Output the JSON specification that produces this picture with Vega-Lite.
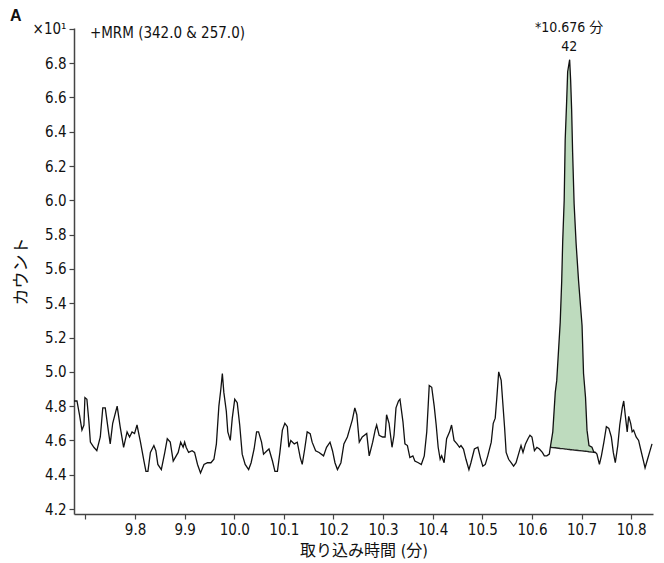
{
  "$schema": "https://vega.github.io/schema/vega-lite/v6.json",
  "autosize": {"type": "none"},
  "width": 579,
  "height": 486,
  "padding": {"left": 74, "top": 28, "right": 11, "bottom": 49},
  "background": "white",
  "config": {
    "view": {"stroke": null},
    "font": "DejaVu Sans Condensed, Noto Sans CJK JP",
    "axis": {"grid": false, "domainColor": "#444", "domainWidth": 1.5, "tickColor": "#444", "tickWidth": 1.2, "tickSize": 5, "labelColor": "#111", "titleColor": "#111", "labelFont": "DejaVu Sans Condensed", "labelFontSize": 15, "titleFont": "DejaVu Sans Condensed, Noto Sans CJK JP", "titleFontWeight": "normal", "titleFontSize": 16}
  },
  "title": {"text": "A", "anchor": "start", "frame": "group", "dx": -64, "offset": -3, "fontSize": 16, "fontWeight": "bold", "font": "Liberation Sans, Arial", "color": "#111"},
  "datasets": {
    "trace": [
      {"t": 9.677, "v": 4.83}, {"t": 9.683, "v": 4.83}, {"t": 9.688, "v": 4.75}, {"t": 9.693, "v": 4.66}, {"t": 9.697, "v": 4.69},
      {"t": 9.699, "v": 4.85}, {"t": 9.703, "v": 4.84}, {"t": 9.707, "v": 4.71}, {"t": 9.710, "v": 4.59}, {"t": 9.717, "v": 4.56},
      {"t": 9.723, "v": 4.54}, {"t": 9.730, "v": 4.62}, {"t": 9.735, "v": 4.79}, {"t": 9.740, "v": 4.79}, {"t": 9.747, "v": 4.64},
      {"t": 9.750, "v": 4.58}, {"t": 9.755, "v": 4.70}, {"t": 9.764, "v": 4.80}, {"t": 9.770, "v": 4.68}, {"t": 9.777, "v": 4.56},
      {"t": 9.784, "v": 4.65}, {"t": 9.789, "v": 4.62}, {"t": 9.794, "v": 4.65}, {"t": 9.799, "v": 4.64}, {"t": 9.804, "v": 4.69},
      {"t": 9.811, "v": 4.59}, {"t": 9.818, "v": 4.48}, {"t": 9.822, "v": 4.42}, {"t": 9.826, "v": 4.42}, {"t": 9.831, "v": 4.53},
      {"t": 9.838, "v": 4.57}, {"t": 9.842, "v": 4.54}, {"t": 9.846, "v": 4.46}, {"t": 9.853, "v": 4.43}, {"t": 9.860, "v": 4.53},
      {"t": 9.865, "v": 4.61}, {"t": 9.871, "v": 4.59}, {"t": 9.877, "v": 4.48}, {"t": 9.881, "v": 4.50}, {"t": 9.887, "v": 4.53},
      {"t": 9.892, "v": 4.59}, {"t": 9.897, "v": 4.56}, {"t": 9.900, "v": 4.59}, {"t": 9.903, "v": 4.56}, {"t": 9.908, "v": 4.53},
      {"t": 9.915, "v": 4.54}, {"t": 9.920, "v": 4.53}, {"t": 9.926, "v": 4.46}, {"t": 9.932, "v": 4.41}, {"t": 9.939, "v": 4.46},
      {"t": 9.946, "v": 4.47}, {"t": 9.953, "v": 4.47}, {"t": 9.959, "v": 4.49}, {"t": 9.964, "v": 4.58}, {"t": 9.969, "v": 4.80},
      {"t": 9.973, "v": 4.90}, {"t": 9.976, "v": 4.99}, {"t": 9.979, "v": 4.88}, {"t": 9.984, "v": 4.77}, {"t": 9.987, "v": 4.65},
      {"t": 9.992, "v": 4.60}, {"t": 9.996, "v": 4.73}, {"t": 10.001, "v": 4.84}, {"t": 10.006, "v": 4.82}, {"t": 10.011, "v": 4.69},
      {"t": 10.016, "v": 4.52}, {"t": 10.022, "v": 4.46}, {"t": 10.029, "v": 4.43}, {"t": 10.034, "v": 4.47}, {"t": 10.040, "v": 4.55},
      {"t": 10.045, "v": 4.65}, {"t": 10.049, "v": 4.65}, {"t": 10.055, "v": 4.59}, {"t": 10.059, "v": 4.52}, {"t": 10.066, "v": 4.54},
      {"t": 10.070, "v": 4.55}, {"t": 10.077, "v": 4.48}, {"t": 10.082, "v": 4.42}, {"t": 10.087, "v": 4.42}, {"t": 10.092, "v": 4.53},
      {"t": 10.097, "v": 4.66}, {"t": 10.102, "v": 4.70}, {"t": 10.107, "v": 4.68}, {"t": 10.110, "v": 4.56}, {"t": 10.114, "v": 4.60},
      {"t": 10.121, "v": 4.58}, {"t": 10.127, "v": 4.59}, {"t": 10.133, "v": 4.50}, {"t": 10.137, "v": 4.46}, {"t": 10.142, "v": 4.55},
      {"t": 10.147, "v": 4.65}, {"t": 10.153, "v": 4.64}, {"t": 10.157, "v": 4.59}, {"t": 10.164, "v": 4.54}, {"t": 10.171, "v": 4.53},
      {"t": 10.180, "v": 4.51}, {"t": 10.186, "v": 4.56}, {"t": 10.193, "v": 4.59}, {"t": 10.198, "v": 4.54}, {"t": 10.203, "v": 4.47},
      {"t": 10.208, "v": 4.43}, {"t": 10.215, "v": 4.47}, {"t": 10.221, "v": 4.58}, {"t": 10.228, "v": 4.62}, {"t": 10.233, "v": 4.67},
      {"t": 10.238, "v": 4.72}, {"t": 10.243, "v": 4.79}, {"t": 10.247, "v": 4.75}, {"t": 10.252, "v": 4.59}, {"t": 10.258, "v": 4.62},
      {"t": 10.267, "v": 4.64}, {"t": 10.272, "v": 4.51}, {"t": 10.279, "v": 4.59}, {"t": 10.284, "v": 4.66}, {"t": 10.287, "v": 4.69},
      {"t": 10.292, "v": 4.63}, {"t": 10.299, "v": 4.62}, {"t": 10.304, "v": 4.62}, {"t": 10.307, "v": 4.75}, {"t": 10.312, "v": 4.70},
      {"t": 10.318, "v": 4.56}, {"t": 10.322, "v": 4.63}, {"t": 10.326, "v": 4.79}, {"t": 10.331, "v": 4.83}, {"t": 10.334, "v": 4.84},
      {"t": 10.340, "v": 4.71}, {"t": 10.344, "v": 4.58}, {"t": 10.349, "v": 4.57}, {"t": 10.354, "v": 4.50}, {"t": 10.360, "v": 4.51},
      {"t": 10.364, "v": 4.48}, {"t": 10.371, "v": 4.47}, {"t": 10.377, "v": 4.46}, {"t": 10.383, "v": 4.51}, {"t": 10.388, "v": 4.65},
      {"t": 10.391, "v": 4.81}, {"t": 10.393, "v": 4.92}, {"t": 10.398, "v": 4.91}, {"t": 10.403, "v": 4.80}, {"t": 10.407, "v": 4.69},
      {"t": 10.411, "v": 4.56}, {"t": 10.415, "v": 4.49}, {"t": 10.418, "v": 4.51}, {"t": 10.423, "v": 4.47}, {"t": 10.428, "v": 4.61},
      {"t": 10.434, "v": 4.65}, {"t": 10.438, "v": 4.69}, {"t": 10.443, "v": 4.60}, {"t": 10.449, "v": 4.58}, {"t": 10.454, "v": 4.56},
      {"t": 10.457, "v": 4.57}, {"t": 10.462, "v": 4.55}, {"t": 10.467, "v": 4.49}, {"t": 10.473, "v": 4.43}, {"t": 10.477, "v": 4.47},
      {"t": 10.484, "v": 4.55}, {"t": 10.491, "v": 4.56}, {"t": 10.496, "v": 4.50}, {"t": 10.501, "v": 4.45}, {"t": 10.506, "v": 4.46},
      {"t": 10.511, "v": 4.51}, {"t": 10.518, "v": 4.59}, {"t": 10.522, "v": 4.70}, {"t": 10.526, "v": 4.73}, {"t": 10.529, "v": 4.84},
      {"t": 10.533, "v": 5.00}, {"t": 10.538, "v": 4.95}, {"t": 10.541, "v": 4.83}, {"t": 10.545, "v": 4.67}, {"t": 10.548, "v": 4.53},
      {"t": 10.553, "v": 4.49}, {"t": 10.558, "v": 4.47}, {"t": 10.563, "v": 4.45}, {"t": 10.568, "v": 4.47}, {"t": 10.574, "v": 4.53},
      {"t": 10.578, "v": 4.57}, {"t": 10.582, "v": 4.53}, {"t": 10.587, "v": 4.58}, {"t": 10.592, "v": 4.61}, {"t": 10.596, "v": 4.63},
      {"t": 10.600, "v": 4.62}, {"t": 10.605, "v": 4.54}, {"t": 10.610, "v": 4.56}, {"t": 10.615, "v": 4.55}, {"t": 10.621, "v": 4.53},
      {"t": 10.625, "v": 4.51}, {"t": 10.630, "v": 4.51}, {"t": 10.635, "v": 4.52}, {"t": 10.637, "v": 4.56}, {"t": 10.642, "v": 4.65},
      {"t": 10.647, "v": 4.88}, {"t": 10.650, "v": 4.95}, {"t": 10.657, "v": 5.29}, {"t": 10.660, "v": 5.53}, {"t": 10.662, "v": 5.76},
      {"t": 10.665, "v": 6.00}, {"t": 10.667, "v": 6.35}, {"t": 10.670, "v": 6.58}, {"t": 10.672, "v": 6.75}, {"t": 10.676, "v": 6.82},
      {"t": 10.678, "v": 6.70}, {"t": 10.680, "v": 6.53}, {"t": 10.682, "v": 6.28}, {"t": 10.685, "v": 5.98}, {"t": 10.689, "v": 5.75},
      {"t": 10.694, "v": 5.53}, {"t": 10.701, "v": 5.27}, {"t": 10.704, "v": 4.99}, {"t": 10.708, "v": 4.85}, {"t": 10.711, "v": 4.66},
      {"t": 10.715, "v": 4.57}, {"t": 10.721, "v": 4.56}, {"t": 10.725, "v": 4.53}, {"t": 10.728, "v": 4.53}, {"t": 10.731, "v": 4.52},
      {"t": 10.736, "v": 4.46}, {"t": 10.740, "v": 4.51}, {"t": 10.745, "v": 4.59}, {"t": 10.750, "v": 4.68}, {"t": 10.755, "v": 4.67},
      {"t": 10.760, "v": 4.62}, {"t": 10.764, "v": 4.53}, {"t": 10.768, "v": 4.47}, {"t": 10.773, "v": 4.57}, {"t": 10.777, "v": 4.69},
      {"t": 10.782, "v": 4.79}, {"t": 10.785, "v": 4.83}, {"t": 10.788, "v": 4.75}, {"t": 10.792, "v": 4.65}, {"t": 10.795, "v": 4.74},
      {"t": 10.799, "v": 4.70}, {"t": 10.802, "v": 4.65}, {"t": 10.805, "v": 4.66}, {"t": 10.810, "v": 4.62}, {"t": 10.815, "v": 4.60},
      {"t": 10.819, "v": 4.55}, {"t": 10.824, "v": 4.49}, {"t": 10.828, "v": 4.44}, {"t": 10.833, "v": 4.49}, {"t": 10.837, "v": 4.53},
      {"t": 10.842, "v": 4.58}
    ],
    "peak": [
      {"t": 10.637, "v": 4.56, "b": 4.560}, {"t": 10.642, "v": 4.65, "b": 4.558}, {"t": 10.647, "v": 4.88, "b": 4.557},
      {"t": 10.650, "v": 4.95, "b": 4.556}, {"t": 10.657, "v": 5.29, "b": 4.553}, {"t": 10.660, "v": 5.53, "b": 4.552},
      {"t": 10.662, "v": 5.76, "b": 4.552}, {"t": 10.665, "v": 6.00, "b": 4.551}, {"t": 10.667, "v": 6.35, "b": 4.550},
      {"t": 10.670, "v": 6.58, "b": 4.549}, {"t": 10.672, "v": 6.75, "b": 4.548}, {"t": 10.676, "v": 6.82, "b": 4.547},
      {"t": 10.678, "v": 6.70, "b": 4.546}, {"t": 10.680, "v": 6.53, "b": 4.546}, {"t": 10.682, "v": 6.28, "b": 4.545},
      {"t": 10.685, "v": 5.98, "b": 4.544}, {"t": 10.689, "v": 5.75, "b": 4.543}, {"t": 10.694, "v": 5.53, "b": 4.541},
      {"t": 10.701, "v": 5.27, "b": 4.539}, {"t": 10.704, "v": 4.99, "b": 4.538}, {"t": 10.708, "v": 4.85, "b": 4.537},
      {"t": 10.711, "v": 4.66, "b": 4.536}, {"t": 10.715, "v": 4.57, "b": 4.534}, {"t": 10.721, "v": 4.56, "b": 4.532},
      {"t": 10.725, "v": 4.53, "b": 4.531}, {"t": 10.728, "v": 4.53, "b": 4.530}
    ],
    "labelsLeft": [
      {"t": 9.709, "v": 6.976, "label": "+MRM (342.0 & 257.0)"}
    ],
    "labelsCenter": [
      {"t": 10.675, "v": 7.005, "label": "*10.676 分"},
      {"t": 10.675, "v": 6.895, "label": "42"}
    ]
  },
  "encoding": {
    "x": {
      "field": "t", "type": "quantitative",
      "scale": {"domain": [9.677, 10.844], "nice": false, "zero": false},
      "axis": {"title": "取り込み時間 (分)", "values": [9.7, 9.8, 9.9, 10.0, 10.1, 10.2, 10.3, 10.4, 10.5, 10.6, 10.7, 10.8], "labelExpr": "datum.value < 9.75 ? '' : format(datum.value, '.1f')", "labelPadding": 3, "titleY": 28, "titleBaseline": "top", "labelFlush": false}
    },
    "y": {
      "field": "v", "type": "quantitative",
      "scale": {"domain": [4.171, 7.005], "nice": false, "zero": false},
      "axis": {"title": "カウント", "titleFontSize": 17, "values": [4.2, 4.4, 4.6, 4.8, 5.0, 5.2, 5.4, 5.6, 5.8, 6.0, 6.2, 6.4, 6.6, 6.8, 7.0], "labelExpr": "datum.value > 6.9 ? '×10¹' : format(datum.value, '.1f')", "labelPadding": 3, "titleX": -44, "labelFlush": false}
    }
  },
  "layer": [
    {
      "data": {"name": "peak"},
      "mark": {"type": "area", "color": "#bedbbe", "opacity": 1},
      "encoding": {"y2": {"field": "b"}}
    },
    {
      "data": {"name": "peak"},
      "mark": {"type": "line", "color": "#222", "strokeWidth": 1.4},
      "encoding": {"y": {"field": "b", "type": "quantitative"}}
    },
    {
      "data": {"name": "trace"},
      "mark": {"type": "line", "color": "#111", "strokeWidth": 1.3}
    },
    {
      "data": {"name": "labelsLeft"},
      "mark": {"type": "text", "align": "left", "baseline": "middle", "fontSize": 15, "color": "#111", "font": "DejaVu Sans Condensed"},
      "encoding": {"text": {"field": "label"}}
    },
    {
      "data": {"name": "labelsCenter"},
      "mark": {"type": "text", "align": "center", "baseline": "middle", "fontSize": 14, "color": "#111", "font": "DejaVu Sans Condensed, Noto Sans CJK JP"},
      "encoding": {"text": {"field": "label"}}
    }
  ]
}
